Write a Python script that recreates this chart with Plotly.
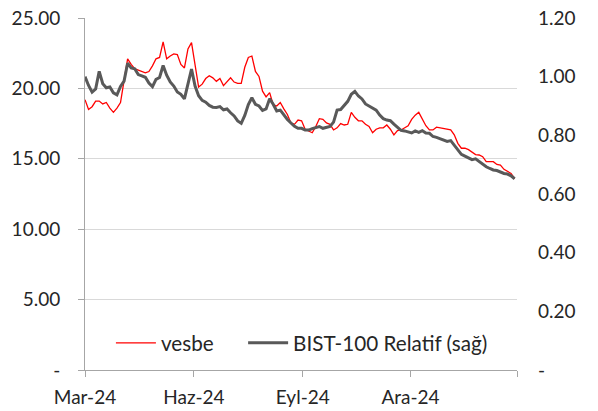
import pandas as pd
import plotly.graph_objects as go

# Dates: observation every 3 days starting 2024-03-01
start_date = "2024-03-01"
step = "3D"

vesbe = [
    19.2, 18.5, 18.7, 19.1, 19.1, 18.9, 19.0, 18.6, 18.3, 18.6,
    19.0, 20.7, 22.1, 21.7, 21.4, 21.3, 21.2, 21.1, 21.2, 21.6,
    22.1, 22.2, 23.3, 22.1, 22.3, 22.45, 22.4, 21.7, 21.45, 22.8,
    23.25, 21.6, 20.1, 20.3, 20.7, 20.9, 20.75, 20.5, 20.7, 20.2,
    20.5, 20.75, 20.45, 20.35, 20.35, 21.5, 22.2, 22.3, 21.2, 20.85,
    19.8, 19.4, 19.7, 18.85, 18.75, 19.0, 18.55, 18.15, 17.55, 17.45,
    17.75, 17.7, 17.1, 16.95, 16.85, 17.3, 17.85, 17.8, 17.55, 17.45,
    17.05, 17.2, 17.5, 17.4, 17.45, 18.3, 17.95, 17.7, 17.7, 17.45,
    17.3, 16.85, 17.1, 17.2, 17.2, 17.4, 17.1, 16.7, 17.0, 17.05,
    17.2, 17.35, 17.8, 18.1, 18.3, 17.85, 17.35, 17.05, 17.05, 17.25,
    17.2, 17.1, 17.05, 17.05, 16.7, 16.1, 15.75, 15.75, 15.65, 15.5,
    15.3, 15.27, 15.15, 14.8, 14.8, 14.8, 14.6, 14.56, 14.25, 14.1,
    13.96, 13.6,
]

bist_rel = [
    1.0, 0.97, 0.947, 0.958, 1.018, 0.976, 0.962, 0.965, 0.945, 0.938,
    0.967, 0.985, 1.046, 1.03, 1.027, 1.007, 1.003, 0.998, 0.978, 0.966,
    0.991, 0.997, 1.038, 1.005, 0.982, 0.968, 0.948, 0.94, 0.924, 0.975,
    1.026, 0.968, 0.935, 0.919, 0.913, 0.902, 0.896, 0.895, 0.898, 0.887,
    0.89, 0.877, 0.866, 0.849, 0.841, 0.868, 0.905, 0.928, 0.906, 0.9,
    0.885, 0.89, 0.925, 0.906, 0.883, 0.886, 0.868, 0.854, 0.842, 0.831,
    0.824, 0.824, 0.818, 0.818, 0.823, 0.826, 0.83, 0.824, 0.827, 0.83,
    0.845, 0.886, 0.888, 0.902, 0.916, 0.94, 0.95, 0.934, 0.924, 0.907,
    0.899, 0.892, 0.886, 0.869, 0.857, 0.852, 0.85, 0.838, 0.826, 0.817,
    0.815, 0.812, 0.808, 0.815, 0.81, 0.816, 0.808, 0.807, 0.796, 0.793,
    0.789, 0.783, 0.779, 0.782, 0.766, 0.748, 0.735, 0.729, 0.723, 0.717,
    0.72, 0.711, 0.699, 0.693, 0.687, 0.682, 0.68, 0.675, 0.67, 0.668,
    0.662, 0.652,
]

x_tick_vals = ["2024-03-01", "2024-06-01", "2024-09-01", "2024-12-01", "2025-03-01"]
x_tick_text = ["Mar-24", "Haz-24", "Eyl-24", "Ara-24", ""]
left_tick_vals = [0, 5, 10, 15, 20, 25]
left_tick_text = ["-", "5.00", "10.00", "15.00", "20.00", "25.00"]
right_tick_vals = [0, 0.2, 0.4, 0.6, 0.8, 1.0, 1.2]
right_tick_text = ["-", "0.20", "0.40", "0.60", "0.80", "1.00", "1.20"]

dates = pd.date_range(start_date, periods=len(vesbe), freq=step)

FONT = "Lato, Carlito, Calibri, sans-serif"
TXT = "#262626"
AX = "#a6a6a6"

fig = go.Figure()
fig.add_trace(go.Scatter(x=dates, y=vesbe, name="vesbe", mode="lines",
                         line=dict(color="#ff0000", width=1.3), yaxis="y",
                         legend="legend"))
fig.add_trace(go.Scatter(x=dates, y=bist_rel, name="BIST-100 Relatif (sağ)", mode="lines",
                         line=dict(color="#595959", width=3), yaxis="y2",
                         legend="legend2"))

legend_common = dict(orientation="h", yanchor="middle", xanchor="left",
                     bgcolor="rgba(0,0,0,0)", font=dict(size=20.7, color=TXT),
                     itemwidth=40)

fig.update_layout(
    width=598, height=411,
    margin=dict(l=85, r=81, t=18, b=41, autoexpand=False),
    paper_bgcolor="white", plot_bgcolor="white",
    font=dict(family=FONT, size=19, color=TXT),
    showlegend=True,
    legend=dict(x=0.060, y=0.077, **legend_common),
    legend2=dict(x=0.366, y=0.077, **legend_common),
    xaxis=dict(type="date", range=["2024-03-01", "2025-03-01"], automargin=False,
               tickmode="array", tickvals=x_tick_vals, ticktext=x_tick_text,
               showgrid=False, zeroline=False, showline=True, linecolor=AX, linewidth=1,
               ticks="outside", ticklen=6, tickcolor=AX, ticklabelstandoff=4),
    yaxis=dict(range=[0, 25], tickmode="array", tickvals=left_tick_vals, ticktext=left_tick_text,
               automargin=False,
               showgrid=True, gridcolor="#d9d9d9", gridwidth=1, zeroline=False,
               showline=True, linecolor=AX, linewidth=1,
               ticks="outside", ticklen=6, tickcolor=AX, ticklabelstandoff=14),
    yaxis2=dict(range=[0, 1.2], overlaying="y", side="right", tickmode="array",
                automargin=False,
                tickvals=right_tick_vals, ticktext=right_tick_text,
                showgrid=False, zeroline=False, showline=False, ticks="",
                ticklabelstandoff=20),
)

fig.write_html("out.html", config={"displayModeBar": False},
               post_script="document.body.style.margin='0';")
